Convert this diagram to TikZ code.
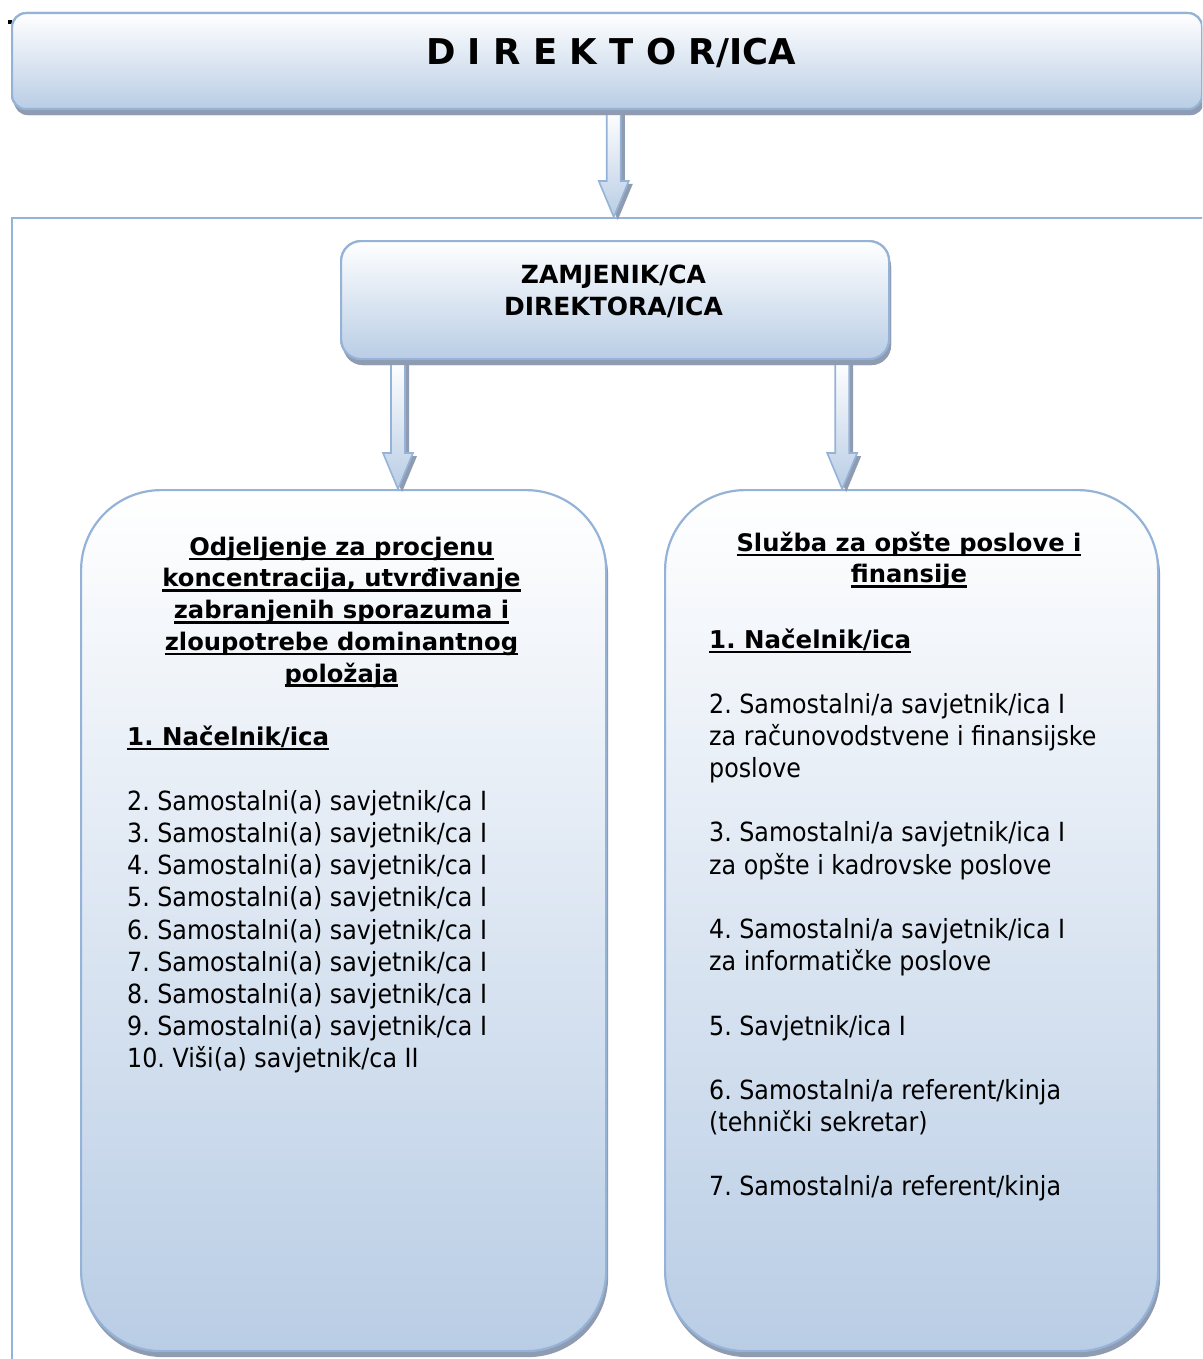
\documentclass[tikz,border=0pt]{standalone}
\usepackage{fontspec}
\setmainfont{DejaVu Sans}
\newfontfamily\bodyf{DejaVu Sans}[FakeStretch=0.9]
\usetikzlibrary{calc,shadows}
\definecolor{boxblue}{HTML}{B9CDE5}
\definecolor{edgeblue}{HTML}{95B3D7}
\definecolor{shadowc}{HTML}{8F9BB0}
\frenchspacing
\newsavebox{\ulbox}
\newcommand\ulx[1]{\sbox\ulbox{#1}\rlap{\rule[-5pt]{\wd\ulbox}{2.6pt}}\usebox\ulbox}
\newcommand\fl{\rule{0pt}{30pt}}
\tikzset{
  box/.style={draw=edgeblue, line width=2.2pt, top color=white, bottom color=boxblue,
    drop shadow={shadow xshift=2pt, shadow yshift=-6pt, fill=shadowc, opacity=1},
    anchor=north west, inner sep=0pt},
  arrowfill/.style={draw=edgeblue, line width=1.6pt, top color=white, bottom color=boxblue},
  arrowshadow/.style={fill=shadowc},
  hd/.style={font={\frenchspacing\bfseries\fontsize{24.2}{31.7}\selectfont}, inner sep=0pt, align=center, anchor=north},
  nac/.style={font={\frenchspacing\bfseries\fontsize{24.5}{32}\selectfont}, inner sep=0pt, align=left, anchor=north west},
  body/.style={font={\frenchspacing\bodyf\fontsize{26.4}{32.2}\selectfont}, inner sep=0pt, align=left, anchor=north west},
}
\newcommand\blockarrow[2]{%
  \fill[arrowshadow] ($(#1)+(-7,0)+(4,3)$) -- ($(#1)+(7,0)+(4,3)$) -- ($(#1|-#2)+(7,-36)+(4,3)$) -- ($(#1|-#2)+(15,-36)+(4,3)$) -- ($(#1|-#2)+(4,3)$) -- ($(#1|-#2)+(-15,-36)+(4,3)$) -- ($(#1|-#2)+(-7,-36)+(4,3)$) -- cycle;
  \draw[arrowfill] ($(#1)+(-7,0)$) -- ($(#1)+(7,0)$) -- ($(#1|-#2)+(7,-36)$) -- ($(#1|-#2)+(15,-36)$) -- (#1|-#2) -- ($(#1|-#2)+(-15,-36)$) -- ($(#1|-#2)+(-7,-36)$) -- cycle;}
\begin{document}
\begin{tikzpicture}[x=1pt,y=-1pt]
\useasboundingbox (0,0) rectangle (1202,1359);
\clip (0,0) rectangle (1202,1359);
\fill[white] (0,0) rectangle (1202,1359);
% stray mark
\fill[black] (8,20) rectangle (12,24);
% frame
\node[draw=edgeblue, line width=1.5pt, minimum width=1204pt, minimum height=1250pt, anchor=north west, inner sep=0pt] (frame) at (11,217) {};
\coordinate (topnw) at (11,12);
\coordinate (zamnw) at (340,240);
% top box and arrow to frame
\node[box, rounded corners=14pt, minimum width=1190pt, minimum height=96pt] (top) at (topnw) {};
\coordinate (ta1) at (frame.north |- top.south);
\blockarrow{ta1}{frame.north}
\node[box, rounded corners=14pt, minimum width=1190pt, minimum height=96pt] (top) at (topnw) {};
% lower boxes
\node[box, rounded corners=80pt, minimum width=525pt, minimum height=861pt] (lbox) at (80,489) {};
\node[box, rounded corners=80pt, minimum width=493pt, minimum height=861pt] (rbox) at (664,489) {};
\node[box, rounded corners=20pt, minimum width=548pt, minimum height=118pt] (zam) at (zamnw) {};
\coordinate (la1) at ($(zam.south west)+(58,0)$);
\coordinate (la2) at (la1 |- lbox.north);
\coordinate (ra1) at ($(zam.south east)+(-48,0)$);
\coordinate (ra2) at (ra1 |- rbox.north);
\blockarrow{la1}{la2}
\blockarrow{ra1}{ra2}
\node[box, rounded corners=20pt, minimum width=548pt, minimum height=118pt] (zam) at (zamnw) {};
% texts
\node[font={\bfseries\fontsize{35.5}{40}\selectfont}, inner sep=0pt, anchor=base] (ttl) at (611,65) {D I R E K T O R/ICA};
\node[font={\bfseries\fontsize{25}{32}\selectfont}, inner sep=0pt, align=center, anchor=north] (zamt) at (613.5,253) {\fl ZAMJENIK/CA\\DIREKTORA/ICA};
\node[hd] (lhead) at (341.5,525) {\fl\ulx{Odjeljenje za procjenu}\\ \ulx{koncentracija, utvrđivanje}\\ \ulx{zabranjenih sporazuma i}\\ \ulx{zloupotrebe dominantnog}\\ \ulx{položaja}};
\node[nac] (lnac) at (127,715) {\fl\ulx{1. Načelnik/ica}};
\node[body] (litems) at (127,780) {\fl 2. Samostalni(a) savjetnik/ca I\\ 3. Samostalni(a) savjetnik/ca I\\ 4. Samostalni(a) savjetnik/ca I\\ 5. Samostalni(a) savjetnik/ca I\\ 6. Samostalni(a) savjetnik/ca I\\ 7. Samostalni(a) savjetnik/ca I\\ 8. Samostalni(a) savjetnik/ca I\\ 9. Samostalni(a) savjetnik/ca I\\ 10. Viši(a) savjetnik/ca II};
\node[hd] (rhead) at (909,521) {\fl\ulx{Služba za opšte poslove i}\\ \ulx{finansije}};
\node[nac] (rnac) at (709,618) {\fl\ulx{1. Načelnik/ica}};
\node[body] (ritems) at (709,683) {\fl 2. Samostalni/a savjetnik/ica I\\ za računovodstvene i finansijske\\ poslove\\[32.15pt] 3. Samostalni/a savjetnik/ica I\\ za opšte i kadrovske poslove\\[32.15pt] 4. Samostalni/a savjetnik/ica I\\ za informatičke poslove\\[32.15pt] 5. Savjetnik/ica I\\[32.15pt] 6. Samostalni/a referent/kinja\\ (tehnički sekretar)\\[32.15pt] 7. Samostalni/a referent/kinja};
\end{tikzpicture}
\end{document}
